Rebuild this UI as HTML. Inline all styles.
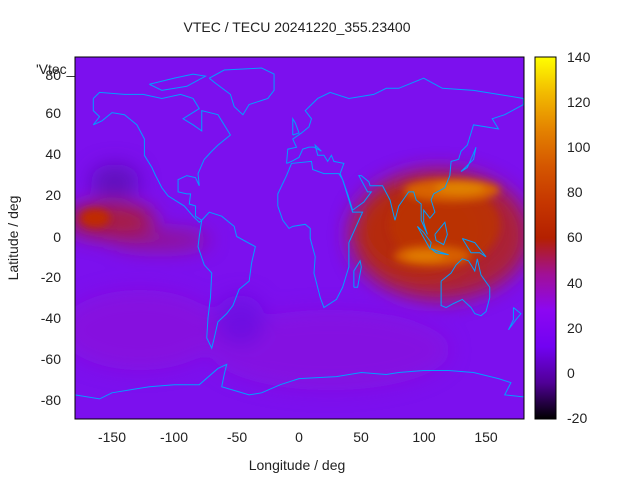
<!DOCTYPE html>
<html><head><meta charset="utf-8"><style>
body{margin:0;background:#fff;width:640px;height:480px;overflow:hidden;font-family:"Liberation Sans",sans-serif}
svg text{font-family:"Liberation Sans",sans-serif;font-size:14px;fill:#222}
</style></head><body>
<svg width="640" height="480" viewBox="0 0 640 480">
<defs>
<filter id="b" x="-50%" y="-50%" width="200%" height="200%"><feGaussianBlur stdDeviation="10"/></filter>
<filter id="b2" x="-50%" y="-50%" width="200%" height="200%"><feGaussianBlur stdDeviation="4"/></filter>
<clipPath id="c"><rect x="75" y="57" width="449" height="362"/></clipPath>
<linearGradient id="pal" x1="0" y1="1" x2="0" y2="0">
<stop offset="0" stop-color="#000000"/><stop offset="0.1" stop-color="#500096"/>
<stop offset="0.2" stop-color="#7202f2"/><stop offset="0.3" stop-color="#8c07f2"/>
<stop offset="0.4" stop-color="#a11096"/><stop offset="0.5" stop-color="#b42000"/>
<stop offset="0.6" stop-color="#c63700"/><stop offset="0.7" stop-color="#d55700"/>
<stop offset="0.8" stop-color="#e48300"/><stop offset="0.9" stop-color="#f2ba00"/>
<stop offset="1" stop-color="#ffff00"/></linearGradient>
</defs>
<text x="297" y="32" text-anchor="middle">VTEC / TECU 20241220_355.23400</text>
<g clip-path="url(#c)">
<rect x="75" y="57" width="449" height="362" fill="#7c10ee"/>
<g filter="url(#b)">
<ellipse cx="140" cy="330" rx="80" ry="40" fill="#8a16d8" opacity="0.7"/>
<ellipse cx="330" cy="350" rx="120" ry="40" fill="#8a16d8" opacity="0.6"/>
<ellipse cx="115" cy="182" rx="25" ry="18" fill="#5a10b0" opacity="0.8"/>
<ellipse cx="240" cy="320" rx="25" ry="25" fill="#6a0ee0" opacity="0.8"/>
<ellipse cx="110" cy="220" rx="45" ry="18" fill="#a81c40"/>
<ellipse cx="160" cy="240" rx="50" ry="10" fill="#9a1870" opacity="0.8"/>
<ellipse cx="440" cy="235" rx="90" ry="65" fill="#ac2034"/>
<ellipse cx="420" cy="230" rx="65" ry="52" fill="#b52a10"/>
</g>
<g filter="url(#b2)">
<ellipse cx="95" cy="218" rx="15" ry="9" fill="#c02c00"/>
<ellipse cx="445" cy="225" rx="55" ry="40" fill="#bc3400" opacity="0.8"/>
<ellipse cx="452" cy="190" rx="48" ry="11" fill="#d86400"/>
<ellipse cx="460" cy="188" rx="25" ry="6" fill="#e08200"/>
<ellipse cx="432" cy="256" rx="38" ry="10" fill="#d65e00"/>
<ellipse cx="425" cy="256" rx="20" ry="5" fill="#e07c00"/>
</g>
<g transform="translate(299,236.5) scale(1.2467,-2.03)" fill="none" stroke="#00a0ff" stroke-width="1">
<polyline vector-effect="non-scaling-stroke" points="-165,68 -160,71 -140,70 -125,70 -110,68 -95,70 -85,68 -80,63 -93,58 -85,55 -78,52 -78,62 -65,60 -60,55 -55,50 -65,45 -70,42 -76,38 -81,31 -80,25 -83,29 -90,30 -97,28 -97,22 -90,21 -87,21 -88,16 -83,15 -83,10 -78,8 -80,7 -85,10 -92,15 -105,20 -110,24 -115,30 -118,34 -124,40 -124,48 -130,55 -140,60 -150,61 -158,57 -165,55 -160,59 -165,62 -165,68"/>
<polyline vector-effect="non-scaling-stroke" points="-78,8 -72,12 -62,10 -52,5 -50,0 -35,-5 -38,-13 -40,-22 -48,-26 -53,-34 -58,-38 -65,-42 -68,-50 -70,-55 -74,-50 -73,-40 -71,-30 -70,-18 -76,-14 -81,-5 -80,0 -78,8"/>
<polyline vector-effect="non-scaling-stroke" points="-72,78 -60,82 -30,83 -20,80 -20,72 -25,68 -40,65 -45,60 -52,64 -55,70 -68,76 -72,78"/>
<polyline vector-effect="non-scaling-stroke" points="-120,75 -100,78 -85,80 -75,79 -90,74 -110,72 -120,75"/>
<polyline vector-effect="non-scaling-stroke" points="-17,15 -17,21 -10,30 -6,36 10,37 11,33 20,31 32,31 35,28 43,12 51,12 40,-3 40,-15 35,-25 30,-31 20,-35 17,-30 12,-18 13,-10 9,-1 9,4 5,6 -5,5 -8,4 -13,8 -17,15"/>
<polyline vector-effect="non-scaling-stroke" points="-10,36 -9,43 -2,44 -5,48 2,51 8,54 10,58 5,62 15,68 25,71 40,68 60,70 70,73 80,73 100,78 115,73 140,72 160,70 180,68 180,65 165,60 155,58 160,53 140,55 135,45 130,42 128,38 122,37 121,30 117,24 108,21 106,18 109,12 105,9 100,13 100,7 103,1 98,8 98,16 94,18 92,22 88,22 80,15 77,8 73,18 67,25 57,25 56,27 50,30 48,30 55,22 58,22 52,17 43,13 39,21 35,28 33,31 36,36 28,37 26,40 23,37 20,40 15,40 13,45 18,42 12,44 8,44 3,43 0,39 -6,37 -10,36"/>
<polyline vector-effect="non-scaling-stroke" points="114,-22 114,-34 118,-35 124,-33 131,-31 138,-35 141,-38 146,-39 150,-37 153,-30 153,-25 146,-19 143,-11 141,-17 136,-12 131,-11 126,-14 122,-18 114,-22"/>
<polyline vector-effect="non-scaling-stroke" points="44,-25 47,-25 50,-15 49,-12 44,-17 44,-25"/>
<polyline vector-effect="non-scaling-stroke" points="95,5 105,-6 106,-3 100,2 95,5"/>
<polyline vector-effect="non-scaling-stroke" points="109,1 117,7 119,1 116,-4 110,-2 109,1"/>
<polyline vector-effect="non-scaling-stroke" points="106,-6 115,-8 120,-9 110,-8 106,-6"/>
<polyline vector-effect="non-scaling-stroke" points="131,-1 141,-3 150,-10 145,-8 138,-8 131,-1"/>
<polyline vector-effect="non-scaling-stroke" points="130,32 135,35 140,38 142,44 140,41 135,34 130,32"/>
<polyline vector-effect="non-scaling-stroke" points="-5,50 0,51 -3,56 -5,58 -5,50"/>
<polyline vector-effect="non-scaling-stroke" points="172,-35 178,-38 174,-41 168,-46 172,-41 172,-35"/>
<polyline vector-effect="non-scaling-stroke" points="-180,-78 -160,-80 -150,-77 -120,-74 -100,-73 -80,-73 -65,-65 -58,-63 -60,-68 -62,-74 -40,-78 -30,-77 -15,-73 0,-70 30,-69 50,-67 70,-68 80,-67 100,-66 120,-66 140,-67 160,-70 170,-72 165,-78 180,-79"/>
</g>
</g>
<rect x="75" y="57" width="449" height="362" fill="none" stroke="#000" stroke-width="1"/>
<text x="36" y="74" font-size="13">'Vtec_</text>
<g text-anchor="end">
<text x="61" y="80">80</text><text x="61" y="118">60</text><text x="61" y="159">40</text>
<text x="61" y="200">20</text><text x="61" y="242">0</text><text x="61" y="282">-20</text>
<text x="61" y="323">-40</text><text x="61" y="364">-60</text><text x="61" y="405">-80</text>
</g>
<g text-anchor="middle">
<text x="112" y="442">-150</text><text x="174" y="442">-100</text><text x="237" y="442">-50</text>
<text x="299" y="442">0</text><text x="361" y="442">50</text><text x="424" y="442">100</text><text x="486" y="442">150</text>
</g>
<text x="297" y="470" text-anchor="middle">Longitude / deg</text>
<text transform="translate(18,238) rotate(-90)" text-anchor="middle">Latitude / deg</text>
<rect x="535" y="57" width="21" height="362" fill="url(#pal)" stroke="#000" stroke-width="1"/>
<g>
<text x="567" y="62">140</text><text x="567" y="107">120</text><text x="567" y="152">100</text>
<text x="567" y="197">80</text><text x="567" y="242">60</text><text x="567" y="288">40</text>
<text x="567" y="333">20</text><text x="567" y="378">0</text><text x="567" y="423">-20</text>
</g>
</svg>
</body></html>
